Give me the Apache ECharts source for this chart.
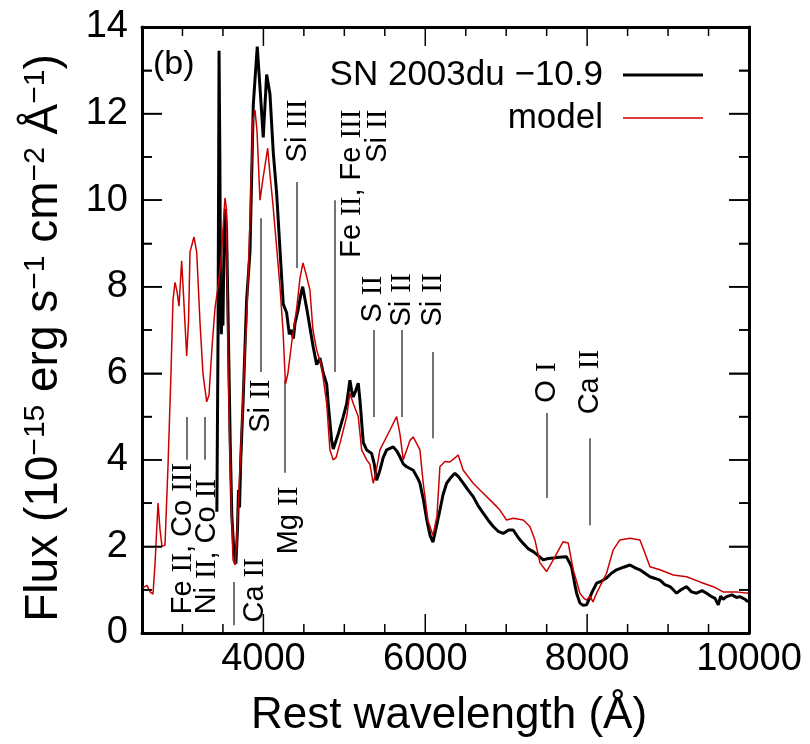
<!DOCTYPE html>
<html><head><meta charset="utf-8">
<script src="https://cdn.jsdelivr.net/npm/echarts@6/dist/echarts.min.js"></script>
<style>html,body{margin:0;padding:0;background:#fff}#c{width:810px;height:744px}</style>
</head><body><div id="c"></div>
<script>
// ---- observed spectrum (SN 2003du, -10.9 d) ----
const obsWave = [3425,3440,3452,3462,3470,3480,3490,3500,3515,3530,
 3545,3560,3590,3610,3635,3660,3680,3692,3705,3720,
 3750,3793,3834,3875,3924,3958,3998,4040,4081,4122,
 4164,4205,4245,4287,4320,4349,4370,4390,4427,4460,
 4485,4535,4580,4616,4658,4699,4740,4782,4801,4843,
 4863,4890,4925,4987,5029,5069,5090,5110,5140,5172,
 5193,5234,5276,5337,5370,5399,5440,5480,5523,5604,
 5650,5687,5730,5770,5851,5900,5934,5975,6020,6060,
 6095,6130,6181,6220,6264,6320,6366,6407,6469,6530,
 6592,6650,6716,6780,6840,6900,6963,7030,7087,7150,
 7210,7270,7334,7400,7457,7520,7581,7650,7746,7808,
 7850,7870,7911,7950,7993,8030,8055,8117,8180,8240,
 8300,8364,8450,8529,8600,8652,8714,8776,8840,8899,
 8960,9023,9064,9105,9160,9229,9290,9352,9420,9476,
 9530,9580,9620,9650,9681,9723,9790,9846,9887,9950,
 9990];
const obsFlux = [2.8,7.0,13.45,11.0,8.0,6.9,7.6,7.1,9.2,9.8,
 9.3,7.7,4.4,2.7,1.9,1.6,2.4,3.3,2.9,4.0,
 5.4,7.7,8.8,12.2,13.55,12.6,11.45,12.9,12.45,11.1,
 10.15,8.85,7.6,7.4,6.9,7.0,6.8,7.15,7.45,7.8,
 8.0,7.5,7.0,6.6,6.2,6.35,6.0,5.75,5.3,4.45,
 4.25,4.4,4.6,5.0,5.3,5.84,5.6,5.45,5.6,5.77,
 5.38,4.4,4.23,4.15,3.9,3.53,3.76,4.05,4.23,4.3,
 4.2,4.07,3.9,3.84,3.76,3.6,3.46,3.1,2.6,2.25,
 2.1,2.4,2.84,3.2,3.46,3.6,3.69,3.62,3.46,3.3,
 3.15,2.95,2.77,2.6,2.46,2.35,2.3,2.38,2.38,2.2,
 2.07,1.95,1.88,1.78,1.69,1.72,1.73,1.75,1.76,1.53,
 1.1,0.92,0.69,0.64,0.65,0.8,0.92,1.15,1.2,1.27,
 1.38,1.46,1.52,1.57,1.5,1.46,1.38,1.3,1.26,1.22,
 1.12,1.07,1.0,0.92,1.0,1.07,0.95,0.92,0.98,0.92,
 0.85,0.8,0.65,0.85,0.78,0.84,0.88,0.82,0.84,0.78,
 0.72];

// ---- model spectrum ----
const modelWave = [2512,2562,2599,2636,2661,2698,2722,2747,2784,2821,
 2858,2883,2908,2932,2957,2990,3013,3052,3075,3093,
 3142,3176,3216,3253,3299,3328,3365,3402,3439,3476,
 3500,3525,3544,3562,3587,3624,3649,3674,3711,3772,
 3793,3834,3871,3896,3921,3958,3995,4053,4081,4118,
 4164,4205,4242,4273,4303,4349,4411,4452,4489,4526,
 4575,4612,4658,4720,4782,4822,4863,4897,4946,5029,
 5069,5110,5172,5214,5276,5316,5357,5390,5440,5564,
 5646,5687,5728,5770,5811,5851,5934,5975,6033,6095,
 6144,6181,6243,6305,6407,6469,6592,6716,6840,6922,
 7005,7087,7210,7293,7355,7417,7499,7581,7704,7766,
 7828,7911,7960,7993,8035,8072,8117,8240,8322,8405,
 8529,8652,8714,8776,8899,9064,9229,9393,9558,9681,
 9846,9990];
const modelFlux = [1.05,1.1,0.95,0.9,1.6,3.0,2.4,2.0,2.03,3.84,
 6.0,7.7,8.1,7.9,7.55,8.6,7.8,6.4,7.2,8.8,
 9.15,8.8,7.2,6.0,5.34,5.5,6.6,7.5,8.0,8.6,
 9.3,10.05,9.8,6.5,4.0,1.69,1.57,2.3,3.84,6.5,
 7.2,9.5,11.85,12.08,11.6,10.0,10.5,11.2,10.6,9.9,
 8.9,8.0,7.0,5.75,6.0,6.7,7.5,8.2,8.55,8.3,
 7.92,7.0,6.54,6.15,5.3,4.23,4.0,4.05,4.38,5.0,
 5.54,5.3,5.0,4.23,4.0,3.9,3.46,3.7,4.23,4.69,
 5.0,4.6,4.0,4.23,4.45,4.53,4.23,3.46,2.6,2.25,
 2.7,3.84,3.96,3.95,4.11,3.76,3.46,3.23,3.0,2.84,
 2.61,2.65,2.61,2.46,2.15,1.62,1.42,1.69,2.11,2.08,
 1.46,0.92,0.8,0.76,0.85,0.72,0.92,1.38,1.92,2.15,
 2.19,2.15,1.85,1.53,1.46,1.34,1.3,1.18,1.07,0.95,
 0.95,0.92];

// ---- axis ticks ----
const xLabelTicks = [4000, 6000, 8000, 10000];
const xMajorTicks = [4000, 6000, 8000];
const xMinorTicks = [3000, 3500, 4500, 5000, 5500, 6500, 7000, 7500, 8500, 9000, 9500];
const yMajorTicks = [2, 4, 6, 8, 10, 12];
const yMinorTicks = [1, 3, 5, 7, 9, 11, 13];

// ---- line identifications: marker lines ----
const annWave = [3056, 3270, 3636, 3964, 4267, 4418, 4884, 5366, 5708, 6098, 7507, 8034];
const annLo   = [4.0, 4.0, 0.18, 6.03, 3.7, 8.43, 6.03, 4.99, 4.99, 4.5, 3.12, 2.49];
const annHi   = [4.99, 4.99, 1.18, 9.58, 5.84, 10.42, 10.0, 7.0, 7.0, 6.49, 5.08, 4.5];
// ---- line identifications: labels ----
const labText = ['Fe II, Co III', 'Ni II, Co II', 'Ca II', 'Si II', 'Mg II', 'Si III',
                 'Fe II, Fe III', 'Si II', 'S II', 'Si II', 'Si II', 'O I', 'Ca II'];
const labWave = [3006, 3303, 3896, 3970, 4316, 4433, 5094, 5415, 5354, 5718, 6101, 7509, 8040];
const labFlux = [0.42, 0.42, 0.23, 5.84, 3.37, 10.86, 12.08, 12.08, 7.16, 7.07, 7.07, 5.31, 5.04];
const labEnd  = ['left','left','left','right','right','left','right','right','left','left','left','left','left'];

const SANS = 'Liberation Sans, Arial, Helvetica, sans-serif';
const SERIF = 'Liberation Serif, Times New Roman, serif';
const XMIN = 2500, XMAX = 10000, YMIN = 0, YMAX = 14;

function zip(a, b) { return a.map(function (v, i) { return [v, b[i]]; }); }

function xAxisDef(pos, showLabel) {
  return {
    type: 'value', min: XMIN, max: XMAX, position: pos, gridIndex: 0,
    splitLine: {show: false},
    axisLine: {show: true, onZero: false, lineStyle: {color: '#000', width: 3}},
    axisTick: {show: false},
    axisLabel: showLabel ? {show: true, customValues: xLabelTicks, fontSize: 38,
               fontFamily: SANS, color: '#000', margin: 8, formatter: function (v) { return String(v); }} : {show: false}
  };
}
function yAxisDef(pos, showLabel) {
  return {
    type: 'value', min: YMIN, max: YMAX, interval: 2, position: pos, gridIndex: 0,
    splitLine: {show: false},
    axisLine: {show: true, onZero: false, lineStyle: {color: '#000', width: 3}},
    axisTick: {show: true, inside: true, length: 20, lineStyle: {color: '#000', width: 1.5}},
    minorTick: {show: true, splitNumber: 2, length: 10, lineStyle: {color: '#000', width: 1.5}},
    axisLabel: showLabel ? {show: true, fontSize: 38, fontFamily: SANS, color: '#000', margin: 14}
                         : {show: false}
  };
}

const textGraphics = [
  {type: 'text', x: 449, y: 716, silent: true,
   style: {text: 'Rest wavelength (\u00c5)', fontSize: 44, fontFamily: SANS, fill: '#000',
           align: 'center', verticalAlign: 'middle'}},
  {type: 'text', x: 44, y: 338, rotation: Math.PI / 2, silent: true,
   style: {text: '{a|Flux (10}{s|\u221215}{a| erg s}{s|\u22121}{a| cm}{s|\u22122}{a| \u00c5}{s|\u22121}{a|)}',
           fontFamily: SANS, fill: '#000', align: 'center', verticalAlign: 'middle',
           rich: {a: {fontSize: 46, fontFamily: SANS, fill: '#000'},
                  s: {fontSize: 30, fontFamily: SANS, fill: '#000', verticalAlign: 'top'}}}},
  {type: 'text', x: 153, y: 65, silent: true,
   style: {text: '(b)', fontSize: 34, fontFamily: SANS, fill: '#000', align: 'left', verticalAlign: 'middle'}}
];

const option = {
  animation: false,
  backgroundColor: '#fff',
  grid: {left: 142, right: 61, top: 27, bottom: 111},
  xAxis: [xAxisDef('bottom', true), xAxisDef('top', false)],
  yAxis: [yAxisDef('left', true), yAxisDef('right', false)],
  legend: {
    orient: 'vertical', right: 102, top: 52, align: 'right',
    itemWidth: 80, itemHeight: 14, itemGap: 7,
    textStyle: {fontSize: 35, fontFamily: SANS, color: '#000', lineHeight: 36, padding: [0, 15, 0, 0]},
    data: [
      {name: 'SN 2003du \u221210.9', icon: 'path://M0,0H80V3H0Z'},
      {name: 'model', icon: 'path://M0,0H80V1.5H0Z'}
    ]
  },
  graphic: textGraphics,
  series: [
    {name: 'SN 2003du \u221210.9', type: 'line', xAxisIndex: 0, yAxisIndex: 0,
     data: zip(obsWave, obsFlux), symbol: 'none', smooth: false,
     lineStyle: {color: '#000', width: 3}, itemStyle: {color: '#000'}, z: 3},
    {name: 'model', type: 'line', xAxisIndex: 0, yAxisIndex: 0,
     data: zip(modelWave, modelFlux), symbol: 'none', smooth: false,
     lineStyle: {color: '#cc0000', width: 1.5}, itemStyle: {color: '#cc0000'}, z: 4},
    {name: 'idlines', type: 'lines', coordinateSystem: 'cartesian2d', xAxisIndex: 0, yAxisIndex: 0,
     silent: true, z: 2,
     data: annWave.map(function (w, i) { return {coords: [[w, annLo[i]], [w, annHi[i]]]}; }),
     lineStyle: {color: '#444', width: 1.5, opacity: 1, curveness: 0}},
    {name: 'idlabels', type: 'scatter', xAxisIndex: 0, yAxisIndex: 0, silent: true, z: 5,
     symbolSize: 1, itemStyle: {color: 'rgba(255,255,255,0)', opacity: 1},
     data: labWave.map(function (w, i) { return {
       value: [w, labFlux[i]],
       label: {show: true, position: 'top', distance: 0, rotate: 90, align: labEnd[i], verticalAlign: 'middle',
               formatter: labText[i].replace(/\b(I+)\b/g, '{r|$1}'),
               fontSize: 29, fontFamily: SANS, color: '#000', textBorderWidth: 0, opacity: 1,
               rich: {r: {fontSize: 29, fontFamily: SERIF, color: '#000', textBorderWidth: 0}}}
     }; })}
  ]
};
const chart = echarts.init(document.getElementById('c'), null, {renderer: 'canvas'});
chart.setOption(option);

// inward tick marks on all four sides, positioned through the chart's own axis scales
function px(v) { return chart.convertToPixel({gridIndex: 0}, v); }
const tickEls = [];
function addX(vals, len) {
  vals.forEach(function (v) {
    const b = px([v, YMIN]), t = px([v, YMAX]);
    tickEls.push({type: 'line', silent: true, z: 100, shape: {x1: b[0], y1: b[1], x2: b[0], y2: b[1] - len}, style: {stroke: '#000', lineWidth: 1.5}});
    tickEls.push({type: 'line', silent: true, z: 100, shape: {x1: t[0], y1: t[1], x2: t[0], y2: t[1] + len}, style: {stroke: '#000', lineWidth: 1.5}});
  });
}
function addY(vals, len) {
  vals.forEach(function (v) {
    const l = px([XMIN, v]), r = px([XMAX, v]);
    tickEls.push({type: 'line', silent: true, z: 100, shape: {x1: l[0], y1: l[1], x2: l[0] + len, y2: l[1]}, style: {stroke: '#000', lineWidth: 1.5}});
    tickEls.push({type: 'line', silent: true, z: 100, shape: {x1: r[0], y1: r[1], x2: r[0] - len, y2: r[1]}, style: {stroke: '#000', lineWidth: 1.5}});
  });
}
addX(xMinorTicks, 9); addX(xMajorTicks, 19);
addY(yMinorTicks, 10); addY(yMajorTicks, 20);
chart.setOption({graphic: textGraphics.concat(tickEls)});
</script></body></html>
